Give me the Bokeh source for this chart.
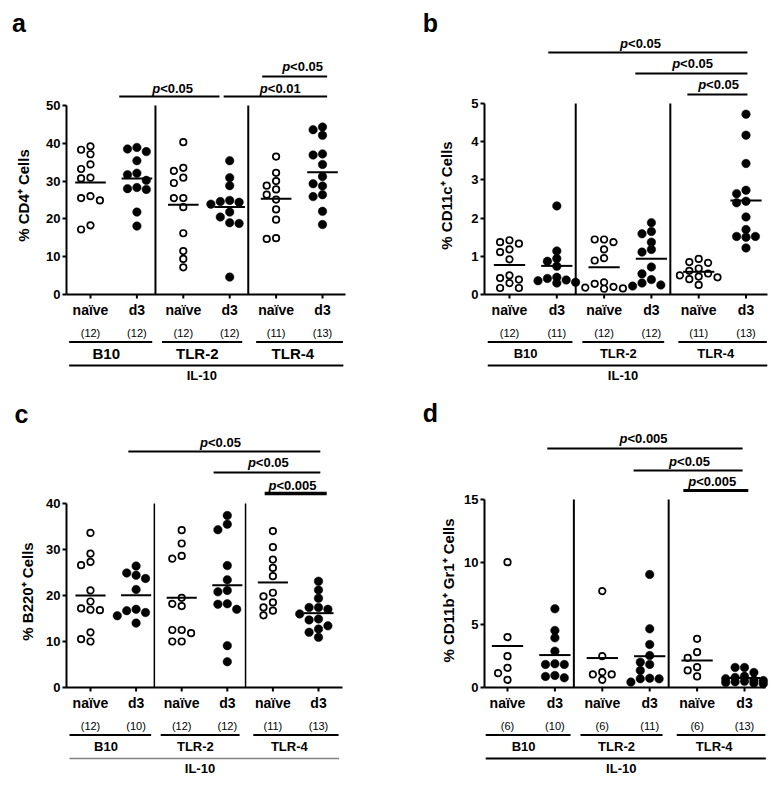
import numpy as np
from bokeh.plotting import figure
from bokeh.layouts import gridplot
from bokeh.models import FixedTicker
from bokeh.core.properties import value
from bokeh.embed import file_html
from bokeh.resources import INLINE

# ---------------- data ----------------
CATEGORIES = ["naïve", "d3", "naïve", "d3", "naïve", "d3"]
OPEN_MARKER = [True, False, True, False, True, False]
GROUPS = ["B10", "TLR-2", "TLR-4"]
STRAIN = "IL-10"

# a: % CD4+ cells
cd4_b10_naive = [39.2, 37.1, 38.3, 34.4, 33.2, 30.7, 30.9, 25.5, 24.9, 26.0, 17.2, 18.3]
cd4_b10_d3 = [38.5, 37.8, 38.9, 35.4, 32.1, 31.7, 30.2, 28.3, 27.8, 28.0, 21.8, 18.1]
cd4_tlr2_naive = [40.3, 33.5, 32.7, 30.9, 29.5, 25.5, 25.5, 23.1, 16.2, 11.5, 9.4, 7.2]
cd4_tlr2_d3 = [35.4, 30.9, 28.8, 24.6, 24.9, 24.4, 23.9, 21.8, 20.5, 19.0, 18.8, 4.6]
cd4_tlr4_naive = [36.5, 32.2, 30.0, 28.8, 27.8, 26.4, 25.1, 22.5, 19.8, 14.7, 14.9]
cd4_tlr4_d3 = [43.6, 44.3, 42.1, 36.9, 37.2, 34.4, 31.2, 29.3, 28.7, 26.4, 25.9, 22.0, 18.5]

# b: % CD11c+ cells
cd11c_b10_naive = [1.37, 1.33, 1.42, 1.18, 1.11, 0.92, 0.50, 0.43, 0.39, 0.30, 0.17, 0.17]
cd11c_b10_d3 = [2.32, 1.14, 0.94, 0.87, 0.74, 0.45, 0.42, 0.38, 0.36, 0.32, 0.30]
cd11c_tlr2_naive = [1.44, 1.44, 1.37, 1.18, 0.95, 0.89, 0.32, 0.28, 0.20, 0.18, 0.16, 0.15]
cd11c_tlr2_d3 = [1.88, 1.65, 1.59, 1.37, 1.18, 1.11, 0.72, 0.54, 0.39, 0.30, 0.25, 0.22]
cd11c_tlr4_naive = [0.93, 0.85, 0.83, 0.68, 0.62, 0.55, 0.50, 0.47, 0.45, 0.40, 0.25]
cd11c_tlr4_d3 = [4.72, 4.17, 3.43, 2.73, 2.64, 2.44, 2.40, 2.03, 1.70, 1.52, 1.50, 1.52, 1.22]

# c: % B220+ cells
b220_b10_naive = [33.6, 29.1, 27.3, 26.6, 21.1, 18.7, 16.9, 16.8, 17.2, 12.0, 10.0, 10.5]
b220_b10_d3 = [26.4, 24.4, 24.9, 23.7, 21.3, 16.7, 16.3, 17.0, 15.6, 14.0]
b220_tlr2_naive = [34.2, 31.3, 28.6, 28.0, 19.5, 17.7, 18.2, 12.5, 12.5, 11.8, 10.0, 10.0]
b220_tlr2_d3 = [37.4, 34.3, 35.5, 26.5, 23.4, 21.1, 20.8, 18.1, 17.0, 18.2, 9.1, 5.6]
b220_tlr4_naive = [34.0, 30.5, 27.8, 26.0, 24.2, 20.6, 19.8, 18.5, 17.4, 16.7, 15.7]
b220_tlr4_d3 = [23.1, 21.2, 19.4, 17.4, 17.4, 17.0, 16.0, 14.9, 14.7, 13.4, 12.7, 12.0, 10.9]

# d: % CD11b+ Gr1+ cells
gr1_b10_naive = [10.0, 4.02, 2.5, 1.57, 1.14, 0.61]
gr1_b10_d3 = [6.28, 4.55, 3.96, 2.9, 1.89, 1.84, 1.84, 0.96, 0.77, 0.88]
gr1_tlr2_naive = [7.69, 2.5, 1.22, 1.04, 1.04, 0.61]
gr1_tlr2_d3 = [9.02, 4.68, 3.43, 2.55, 2.02, 1.84, 1.36, 0.74, 0.70, 0.69, 0.43]
gr1_tlr4_naive = [3.88, 2.82, 2.37, 1.62, 1.36, 0.88]
gr1_tlr4_d3 = [1.6, 1.6, 1.2, 0.9, 0.8, 0.7, 0.6, 0.55, 0.5, 0.45, 0.4, 0.35, 0.3]

# p-value annotations: (from, to, text centre, label)
P_A = [(1.62, 3.78, 2.77, "<0.05"), (3.87, 6.10, 5.09, "<0.01"), (4.70, 6.10, 5.57, "<0.05")]
P_B = [(1.82, 6.03, 3.77, "<0.05"), (3.66, 6.03, 4.87, "<0.05"), (4.76, 6.03, 5.42, "<0.05")]
P_C = [(1.83, 6.04, 3.85, "<0.05"), (3.70, 6.04, 4.90, "<0.05"), (4.82, 6.18, 5.43, "<0.005")]
P_D = [(1.84, 5.96, 3.87, "<0.005"), (3.66, 5.96, 4.84, "<0.05"), (4.71, 6.08, 5.32, "<0.005")]

FONT = "Liberation Sans"
W, H = 390, 393


def text_width(s, size):
    widths = {'p': 0.611, '<': 0.584, '.': 0.278}
    return sum(widths.get(c, 0.556) for c in s) * size


def beeswarm(vals, ppu, dx_px, step=9.4, mind=7.2):
    order = np.argsort(-np.asarray(vals), kind="stable")
    offs = np.zeros(len(vals))
    placed = []
    cands = [0, -1, 1, -2, 2]
    for i in order:
        y = vals[i] * ppu
        chosen, bestx, bestd = None, 0.0, -1.0
        for k in cands:
            x = k * step
            dmin = min((np.hypot(x - px, y - py) for px, py in placed), default=1e9)
            if dmin >= mind:
                chosen = x
                break
            if dmin > bestd:
                bestd, bestx = dmin, x
        if chosen is None:
            chosen = bestx
        placed.append((chosen, y))
        offs[i] = chosen / dx_px
    return offs


def panel(spec):
    ox, oy = spec["origin"]
    axl, axr = spec["ax_x"]
    ytop, ybot = spec["ax_y"]
    c1, dx = spec["cat_x"]
    vmax = spec["vmax"]
    ppu = (ybot - ytop) / vmax
    X = lambda px: 1 + (px - c1) / dx
    Y = lambda py: (ybot - py) / ppu
    p = figure(width=W, height=H, x_range=(X(ox), X(ox + W)), y_range=(Y(oy + H), Y(oy)),
               x_axis_location=None, toolbar_location=None, output_backend="svg",
               min_border_left=0, min_border_right=0, min_border_top=0, min_border_bottom=0)
    p.outline_line_color = None
    p.xgrid.visible = False
    p.ygrid.visible = False
    p.background_fill_color = "white"
    p.border_fill_color = "white"

    ax = p.yaxis[0]
    ax.fixed_location = X(axl)
    ax.ticker = FixedTicker(ticks=spec["yticks"])
    ax.bounds = (0, vmax)
    ax.axis_line_width = 2
    ax.axis_line_color = "black"
    ax.major_tick_line_width = 2
    ax.major_tick_out = 4
    ax.major_tick_in = 0
    ax.minor_tick_line_color = None
    ax.major_label_text_font = FONT
    ax.major_label_text_font_size = "13px"
    ax.major_label_text_font_style = "bold"
    ax.major_label_text_color = "black"
    ax.major_label_standoff = 2

    txt = dict(text_font=value(FONT), text_color="black", text_align="center", text_baseline="middle")

    # y-axis title (rotated) and panel letter
    lx, ly = spec["ylabel_pos"]
    p.text(x=[X(lx)], y=[Y(ly)], text=[spec["ylabel"]], angle=np.pi / 2, text_font_size="15px",
           text_font_style="bold", **txt)
    letter, gx, gy = spec["letter"]
    p.text(x=[X(gx)], y=[Y(gy)], text=[letter], text_font_size="25px", text_font_style="bold", **txt)

    series = spec["series"]
    positions = np.arange(1, len(series) + 1)
    for pos, vals, is_open in zip(positions, series, OPEN_MARKER):
        offs = beeswarm(vals, ppu, dx)
        xs = pos + offs
        if is_open:
            p.scatter(xs, vals, size=6.5, fill_color="white", line_color="black", line_width=1.7)
        else:
            p.scatter(xs, vals, size=8.5, fill_color="black", line_color="black", line_width=0.5)
        m = float(np.mean(vals))
        p.segment(x0=[pos - 0.33], y0=[m], x1=[pos + 0.33], y1=[m], line_color="black", line_width=2)

    # x axis line, ticks and dividers
    p.segment(x0=[X(axl)], y0=[0], x1=[X(axr)], y1=[0], line_color="black", line_width=2)
    p.segment(x0=positions, y0=0, x1=positions, y1=-4 / ppu, line_color="black", line_width=2)
    p.segment(x0=[2.4, 4.4], y0=0, x1=[2.4, 4.4], y1=vmax, line_color="black",
              line_width=spec.get("div_w", 2))

    p.text(x=positions, y=-15 / ppu, text=CATEGORIES, text_font_size="14px", text_font_style="bold", **txt)
    counts = ["(%d)" % len(v) for v in series]
    p.text(x=positions, y=-38 / ppu, text=counts, text_font_size="11px", text_font_style="normal", **txt)
    spans = [(0.54, 2.33), (2.54, 4.27), (4.57, 6.44)]
    p.segment(x0=[s[0] for s in spans], y0=-47.5 / ppu, x1=[s[1] for s in spans], y1=-47.5 / ppu,
              line_color="black", line_width=2)
    p.text(x=[1.34, 3.3, 5.36], y=-58.5 / ppu, text=GROUPS, text_font_size=spec.get("grp_size", "13px"),
           text_font_style="bold", **txt)
    p.segment(x0=[0.54], y0=[-71 / ppu], x1=[6.45], y1=[-71 / ppu],
              line_color=spec.get("il_color", "black"), line_width=spec.get("il_w", 2))
    p.text(x=[3.4], y=[-81 / ppu], text=[STRAIN], text_font_size="13px", text_font_style="bold", **txt)

    # p-value brackets
    for (xa, xb, xt, lab), (hl, ht, lw) in zip(spec["pvals"], spec["p_heights"]):
        yl = vmax + hl / ppu
        yt = vmax + ht / ppu
        p.segment(x0=[xa], y0=[yl], x1=[xb], y1=[yl], line_color="black", line_width=lw)
        tw = text_width("p" + lab, 13)
        pw = text_width("p", 13)
        p.text(x=[xt], y=[yt], text=["p"], x_offset=-tw / 2, text_font=value(FONT), text_font_size="13px",
               text_font_style="bold italic", text_align="left", text_baseline="middle", text_color="black")
        p.text(x=[xt], y=[yt], text=[lab], x_offset=-tw / 2 + pw, text_font=value(FONT), text_font_size="13px",
               text_font_style="bold", text_align="left", text_baseline="middle", text_color="black")
    return p


pa = panel(dict(origin=(0, 0), ax_x=(66, 345), ax_y=(105, 294), cat_x=(90, 46.4), vmax=50,
                yticks=[0, 10, 20, 30, 40, 50], ylabel="% CD4⁺ Cells", ylabel_pos=(23, 195),
                series=[cd4_b10_naive, cd4_b10_d3, cd4_tlr2_naive, cd4_tlr2_d3, cd4_tlr4_naive, cd4_tlr4_d3],
                pvals=P_A, p_heights=[(9, 17, 2), (9, 17, 2), (29, 39, 2)],
                letter=("a", 18.5, 22), grp_size="15px"))
pb = panel(dict(origin=(390, 0), ax_x=(484, 767), ax_y=(103, 294), cat_x=(509, 47.3), vmax=5,
                yticks=[0, 1, 2, 3, 4, 5], ylabel="% CD11c⁺ Cells", ylabel_pos=(446, 195),
                series=[cd11c_b10_naive, cd11c_b10_d3, cd11c_tlr2_naive, cd11c_tlr2_d3, cd11c_tlr4_naive, cd11c_tlr4_d3],
                pvals=P_B, p_heights=[(51, 60, 2), (30, 40, 2), (9, 19, 2)],
                letter=("b", 430, 22)))
pc = panel(dict(origin=(0, 393), ax_x=(66, 342), ax_y=(503, 687), cat_x=(90, 45.6), vmax=40,
                yticks=[0, 10, 20, 30, 40], ylabel="% B220⁺ Cells", ylabel_pos=(27, 591),
                series=[b220_b10_naive, b220_b10_d3, b220_tlr2_naive, b220_tlr2_d3, b220_tlr4_naive, b220_tlr4_d3],
                pvals=P_C, p_heights=[(52, 61, 2), (31, 41, 2), (10, 18, 3.5)],
                letter=("c", 21, 413), div_w=1.5, il_color="#808080", il_w=1.5))
pd_ = panel(dict(origin=(390, 393), ax_x=(484, 765), ax_y=(499, 687), cat_x=(507, 47.4), vmax=15,
                 yticks=[0, 5, 10, 15], ylabel="% CD11b⁺ Gr1⁺ Cells", ylabel_pos=(447.5, 590),
                 series=[gr1_b10_naive, gr1_b10_d3, gr1_tlr2_naive, gr1_tlr2_d3, gr1_tlr4_naive, gr1_tlr4_d3],
                 pvals=P_D, p_heights=[(51, 61, 2), (29, 38, 2), (9, 18, 3)],
                 letter=("d", 430, 412)))

grid = gridplot([[pa, pb], [pc, pd_]], toolbar_location=None)
open("out.html", "w").write(file_html(grid, INLINE))
